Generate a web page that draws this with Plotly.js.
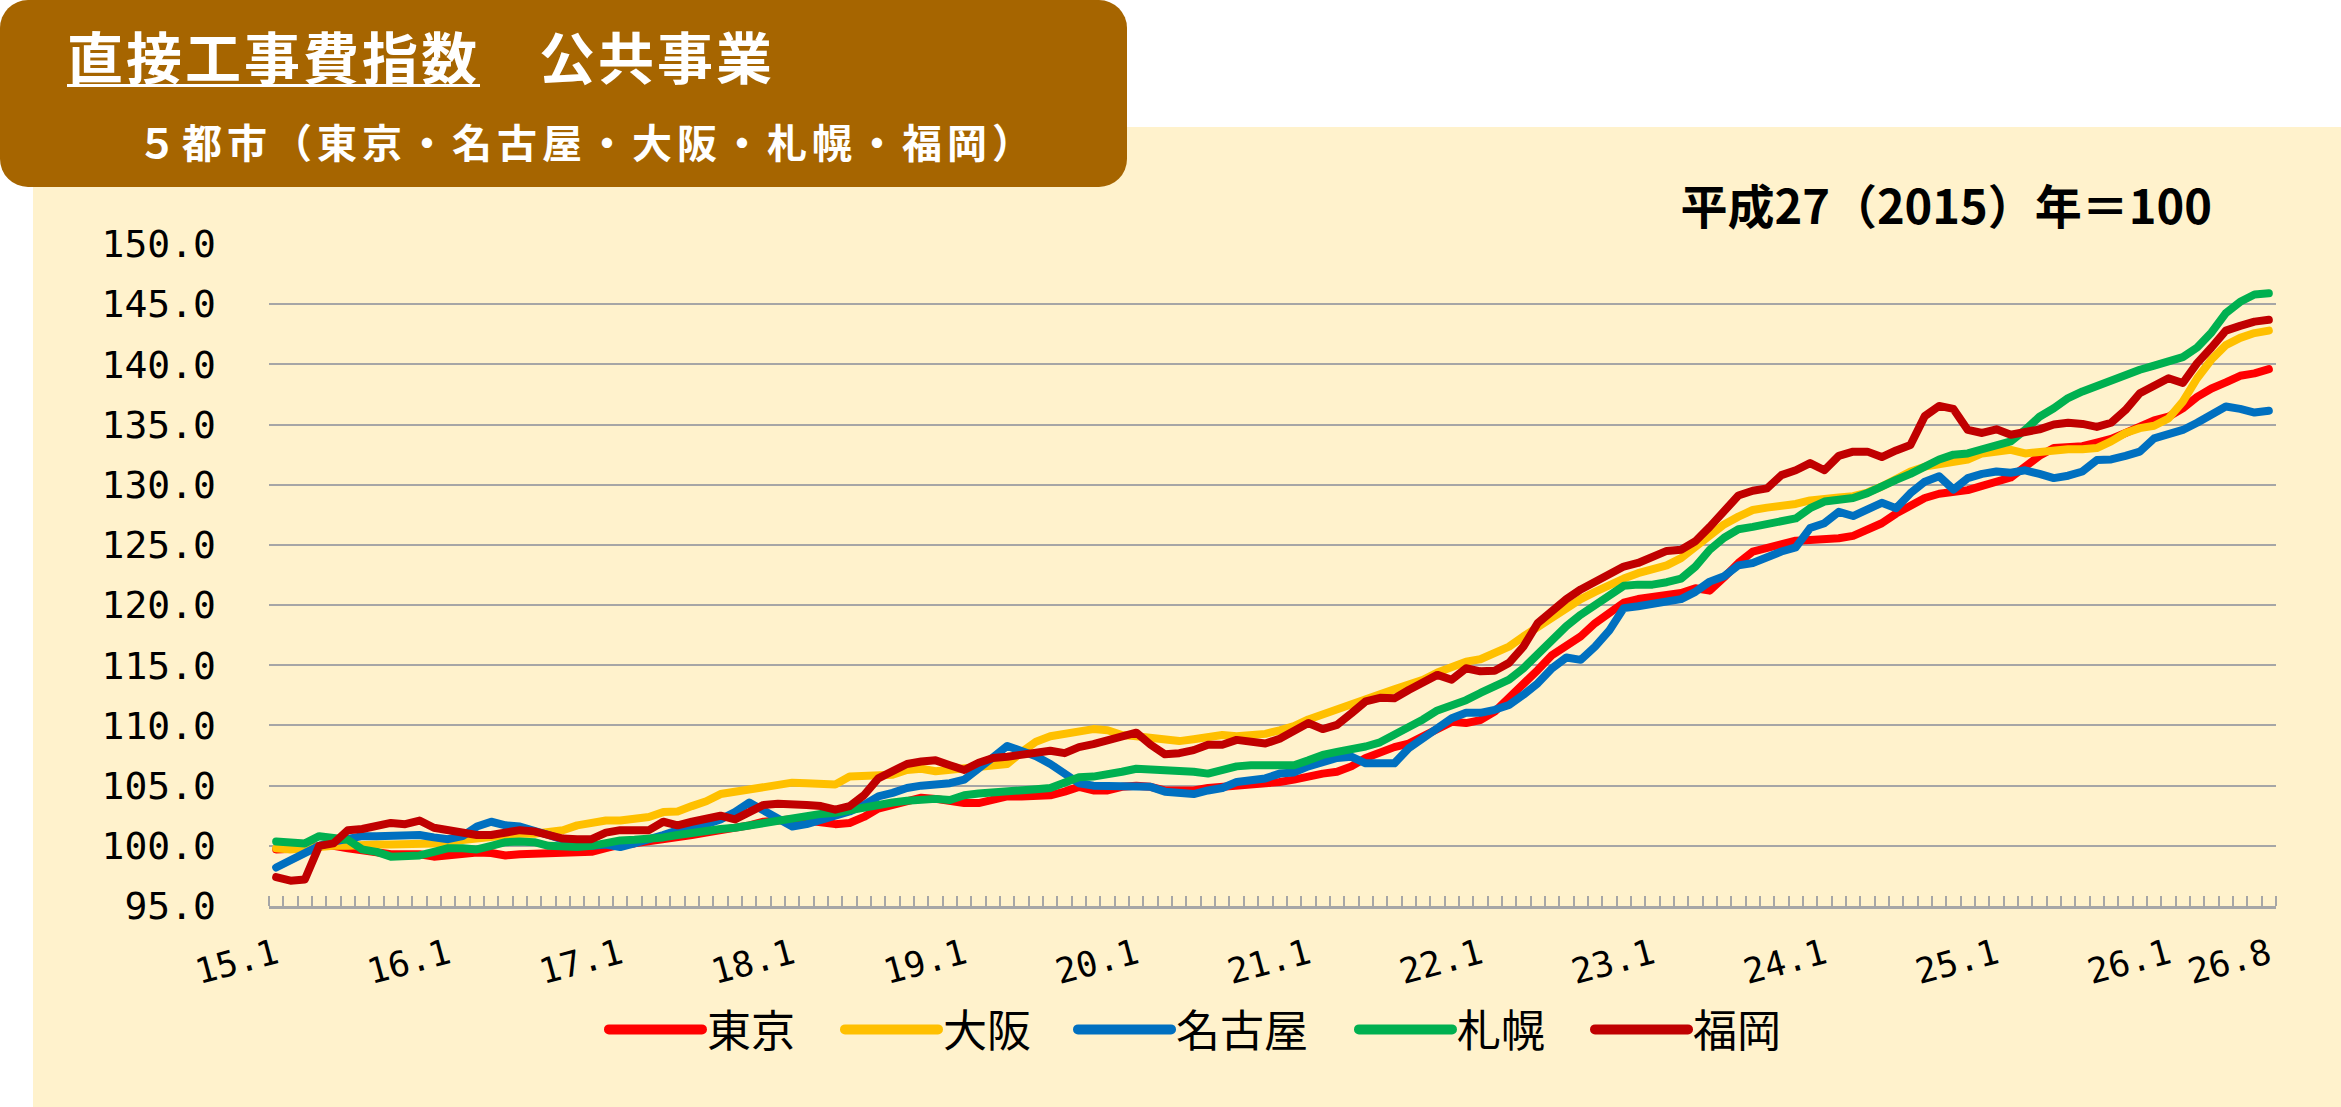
<!DOCTYPE html>
<html>
<head>
<meta charset="utf-8">
<script src="https://cdn.plot.ly/plotly-3.0.1.min.js"></script>
<style>
  body { margin: 0; background: #fff; }
  #wrap { position: relative; width: 2341px; height: 1107px; overflow: hidden; background: #fff; }
  #cream { position: absolute; left: 33px; top: 127px; right: 0; bottom: 0; background: #FFF2CC; }
  #chart { position: absolute; left: 0; top: 0; width: 2341px; height: 1107px; }
  #box { position: absolute; left: 0; top: 0; width: 1127px; height: 187px; background: #A66500;
         border-radius: 28px; font-family: "Noto Sans CJK JP", sans-serif; font-weight: 700; color: #fff; }
  #t1 { position: absolute; left: 67px; top: 27px; font-size: 56px; line-height: 56px; letter-spacing: 3px; white-space: nowrap; }
  #t1 .u { text-decoration: underline; text-decoration-thickness: 3px; text-underline-offset: 5px; }
  #t2 { position: absolute; left: 137px; top: 121px; font-size: 40px; line-height: 40px; letter-spacing: 5px; white-space: nowrap; }
  #unit { position: absolute; right: 129px; top: 180px; font-family: "Noto Sans CJK JP", sans-serif; font-weight: 700;
          font-size: 47px; line-height: 47px; color: #000; white-space: nowrap; }
  #chart path.js-line { stroke-linecap: round; stroke-linejoin: round; }
  #chart .legendlines path { stroke-linecap: round; stroke-width: 10px !important; }
</style>
</head>
<body>
<div id="wrap">
  <div id="cream"></div>
  <div id="chart"></div>
  <div id="box">
    <div id="t1"><span class="u">直接工事費指数</span>　公共事業</div>
    <div id="t2">５都市（東京・名古屋・大阪・札幌・福岡）</div>
  </div>
  <div id="unit">平成27（2015）年＝100</div>
</div>
<script>
// monthly index, 2015.1 - 2026.8 (平成27年 = 100)
var months = [];
for (var yr = 15; yr <= 26; yr++) {
  for (var m = 1; m <= 12; m++) {
    if (yr === 26 && m > 8) break;
    months.push(yr + '.' + m);
  }
}

var tickLabels = ['15.1', '16.1', '17.1', '18.1', '19.1', '20.1', '21.1',
                  '22.1', '23.1', '24.1', '25.1', '26.1', '26.8'];

var tokyo = [
  99.7, 99.7, 99.8, 100.0, 100.0, 99.8, 99.6, 99.4, 99.3, 99.3,
  99.3, 99.1, 99.25, 99.4, 99.45, 99.4, 99.2, 99.3, 99.35, 99.35,
  99.35, 99.45, 99.5, 99.8, 100.1, 100.2, 100.35, 100.5, 100.6, 100.9,
  101.1, 101.3, 101.4, 101.7, 102.0, 102.1, 102.2, 102.1, 102.0, 101.8,
  101.9, 102.4, 103.1, 103.4, 103.8, 104.0, 103.9, 103.7, 103.55, 103.55,
  103.9, 104.1, 104.1, 104.1, 104.2, 104.5, 104.9, 104.6, 104.6, 104.9,
  105.0, 104.9, 104.6, 104.6, 104.6, 104.8, 104.9, 105.0, 105.0, 105.1,
  105.3, 105.5, 105.8, 106.0, 106.15, 106.6, 107.3, 107.8, 108.2, 108.5,
  109.1, 109.75, 110.3, 110.2, 110.45, 111.15, 112.25, 113.35, 114.6, 115.85,
  116.55, 117.4, 118.5, 119.45, 120.2, 120.5, 120.7, 120.9, 121.0, 121.4,
  121.2, 122.3, 123.5, 124.45, 124.7, 125.1, 125.35, 125.4, 125.45, 125.55,
  125.75, 126.2, 126.8, 127.6, 128.3, 128.9, 129.25, 129.35, 129.55, 129.9,
  130.25, 130.6, 131.5, 132.4, 133.05, 133.1, 133.2, 133.5, 133.8, 134.3,
  134.85, 135.35, 135.65, 136.35, 137.3, 138.0, 138.5, 139.05, 139.25, 139.6
];

var osaka = [
  99.8, 99.7, 99.8, 99.95, 100.0, 100.0, 100.1, 100.1, 100.1, 100.1,
  100.1, 100.2, 100.35, 100.5, 100.6, 100.7, 100.9, 101.0, 101.0, 101.1,
  101.3, 101.7, 101.9, 102.1, 102.1, 102.2, 102.4, 102.8, 102.85, 103.3,
  103.7, 104.3, 104.5, 104.7, 104.8, 105.1, 105.25, 105.2, 105.1, 105.1,
  105.75, 105.75, 105.8, 105.9, 106.3, 106.4, 106.2, 106.3, 106.4, 106.5,
  106.6, 106.8, 107.8, 108.65, 109.1, 109.3, 109.55, 109.7, 109.6, 109.2,
  109.1, 109.0, 108.85, 108.7, 108.85, 109.0, 109.2, 109.1, 109.2, 109.3,
  109.6, 109.95, 110.5, 110.95, 111.3, 111.7, 112.25, 112.6, 113.0, 113.35,
  113.8, 114.4, 114.9, 115.3, 115.5, 116.0, 116.55, 117.4, 118.2, 118.9,
  119.7, 120.5, 121.1, 121.7, 122.2, 122.65, 123.0, 123.3, 123.9, 124.85,
  125.8, 126.7, 127.35, 127.9, 128.1, 128.2, 128.4, 128.7, 128.9, 128.95,
  129.05, 129.35, 129.85, 130.55, 131.1, 131.5, 131.7, 131.9, 132.1, 132.6,
  132.75, 132.9, 132.6, 132.75, 132.9, 132.95, 132.95, 133.05, 133.6, 134.3,
  134.7, 134.9, 135.5, 136.9, 138.85, 140.4, 141.6, 142.2, 142.6, 142.8
];

var nagoya = [
  98.2, 98.8, 99.5, 100.0, 100.35, 100.6, 100.8, 100.8, 100.8, 100.8,
  100.9, 100.7, 100.55, 100.8, 101.6, 102.0, 101.7, 101.6, 101.3, 100.9,
  100.5, 100.2, 100.0, 100.1, 99.9, 100.2, 100.5, 100.9, 101.3, 101.5,
  101.8, 102.2, 102.8, 103.6, 102.9, 102.2, 101.6, 101.8, 102.1, 102.4,
  102.85, 103.4, 104.1, 104.4, 104.8, 105.0, 105.1, 105.2, 105.5, 106.35,
  107.35, 108.3, 107.95, 107.45, 106.8, 106.0, 105.2, 105.0, 105.0, 105.05,
  104.9, 104.9, 104.5, 104.4, 104.3, 104.6, 104.8, 105.3, 105.4, 105.6,
  106.0, 106.1, 106.6, 107.0, 107.3, 107.4, 106.85, 106.85, 106.85, 108.1,
  109.0, 109.9, 110.6, 111.05, 111.05, 111.3, 111.7, 112.55, 113.5, 114.75,
  115.65, 115.45, 116.55, 117.9, 119.75, 119.9, 120.15, 120.3, 120.5, 121.1,
  121.95, 122.4, 123.3, 123.5, 124.0, 124.45, 124.8, 126.4, 126.8, 127.75,
  127.4, 127.95, 128.5, 128.05, 129.3, 130.25, 130.7, 129.6, 130.55, 130.9,
  131.1, 131.0, 131.2, 130.9, 130.55, 130.75, 131.1, 132.05, 132.1, 132.4,
  132.75, 133.85, 134.2, 134.55, 135.15, 135.8, 136.5, 136.3, 136.0, 136.15
];

var sapporo = [
  100.35, 100.3, 100.2, 100.8, 100.6, 100.5, 99.7, 99.5, 99.1, 99.2,
  99.2, 99.5, 99.8, 99.8, 99.7, 100.0, 100.3, 100.35, 100.3, 100.0,
  99.9, 99.9, 100.0, 100.3, 100.45, 100.5, 100.55, 100.7, 100.9, 101.1,
  101.2, 101.4, 101.5, 101.7, 101.9, 102.15, 102.4, 102.5, 102.65, 102.75,
  103.0, 103.2, 103.5, 103.6, 103.75, 103.9, 103.9, 103.8, 104.2, 104.35,
  104.4, 104.5, 104.6, 104.7, 104.8, 105.2, 105.7, 105.75, 105.9, 106.15,
  106.4, 106.35, 106.35, 106.25, 106.15, 106.0, 106.35, 106.6, 106.7, 106.65,
  106.6, 106.7, 107.1, 107.55, 107.8, 108.0, 108.25, 108.6, 109.2, 109.9,
  110.5, 111.25, 111.6, 112.1, 112.7, 113.2, 113.8, 114.75, 115.95, 117.15,
  118.25, 119.2, 120.0, 120.7, 121.6, 121.7, 121.7, 121.9, 122.2, 123.2,
  124.6, 125.6, 126.3, 126.5, 126.75, 126.85, 127.2, 128.05, 128.6, 128.75,
  128.9, 129.3, 129.9, 130.4, 130.9, 131.5, 132.1, 132.5, 132.6, 132.95,
  133.2, 133.6, 134.55, 135.65, 136.35, 137.2, 137.75, 138.2, 138.7, 139.25,
  139.55, 139.9, 140.25, 140.6, 141.4, 142.65, 144.25, 145.2, 145.8, 145.9
];

var fukuoka = [
  97.4, 97.1, 97.2, 100.0, 100.2, 101.3, 101.4, 101.7, 101.9, 101.8,
  102.1, 101.5, 101.3, 101.1, 100.9, 100.9, 101.1, 101.3, 101.2, 100.9,
  100.6, 100.55, 100.55, 101.1, 101.3, 101.3, 101.3, 102.0, 101.7, 102.0,
  102.3, 102.5, 102.2, 102.8, 103.4, 103.5, 103.5, 103.4, 103.3, 103.0,
  103.3, 104.2, 105.6, 106.2, 106.8, 107.0, 107.1, 106.7, 106.3, 106.9,
  107.3, 107.4, 107.6, 107.7, 107.9, 107.7, 108.2, 108.45, 108.8, 109.0,
  109.4, 108.4, 107.6, 107.7, 107.95, 108.4, 108.4, 108.8, 108.65, 108.5,
  108.9, 109.6, 110.2, 109.7, 110.05, 111.0, 112.0, 112.3, 112.25, 112.95,
  113.6, 114.2, 113.8, 114.75, 114.5, 114.55, 115.2, 116.55, 118.5, 119.55,
  120.5, 121.3, 121.9, 122.5, 123.2, 123.5, 124.0, 124.5, 124.6, 125.3,
  126.5, 127.8, 129.1, 129.5, 129.7, 130.8, 131.2, 131.8, 131.2, 132.4,
  132.75, 132.75, 132.3, 132.85, 133.3, 135.7, 136.55, 136.3, 134.55, 134.3,
  134.6, 134.15, 134.35, 134.6, 135.0, 135.15, 135.05, 134.8, 135.15, 136.2,
  137.6, 138.2, 138.85, 138.45, 140.1, 141.4, 142.8, 143.2, 143.55, 143.7
];

var seriesNames = ['東京', '大阪', '名古屋', '札幌', '福岡'];
var seriesColors = ['#FF0000', '#FFC000', '#0070C0', '#00B050', '#C00000'];
var seriesValues = [tokyo, osaka, nagoya, sapporo, fukuoka];

var idx = months.map(function (m, i) { return i; });
var tickPos = tickLabels.map(function (t) { return months.indexOf(t); });

// one legend per series so each entry sits where the original has it
var legendIds = ['legend', 'legend2', 'legend3', 'legend4', 'legend5'];
var legendX = [0.1669, 0.2845, 0.4006, 0.5406, 0.6582];

var data = seriesValues.map(function (vals, k) {
  return {
    type: 'scatter',
    mode: 'lines',
    name: seriesNames[k],
    legend: legendIds[k],
    x: idx,
    y: vals,
    line: { color: seriesColors[k], width: 8 },
    hoverinfo: 'skip'
  };
});

var layout = {
  width: 2341,
  height: 1107,
  margin: { l: 269, r: 65, t: 244, b: 201 },
  paper_bgcolor: 'rgba(0,0,0,0)',
  plot_bgcolor: 'rgba(0,0,0,0)',
  showlegend: true,
  xaxis: {
    range: [-0.5, 139.5],
    tickmode: 'array',
    tickvals: tickPos,
    ticktext: tickLabels,
    tickangle: -15,
    ticks: '',
    showgrid: false,
    zeroline: false,
    showline: true,
    linecolor: '#A6A6A6',
    linewidth: 3,
    ticklabelstandoff: 12,
    tickfont: { family: 'DejaVu Sans Mono', size: 35, color: '#000' },
    minor: {
      tickmode: 'linear', tick0: -0.5, dtick: 1,
      ticks: 'inside', ticklen: 10, tickwidth: 2, tickcolor: '#A6A6A6', showgrid: false
    }
  },
  yaxis: {
    range: [95, 150],
    tick0: 95,
    dtick: 5,
    tickformat: '.1f',
    ticks: '',
    showline: false,
    zeroline: false,
    gridcolor: '#A6A6A6',
    gridwidth: 2,
    ticklabelstandoff: 52,
    tickfont: { family: 'DejaVu Sans Mono', size: 38, color: '#000' }
  }
};

legendIds.forEach(function (id, k) {
  layout[id] = {
    orientation: 'h',
    x: legendX[k],
    xanchor: 'left',
    y: -0.187,
    yanchor: 'middle',
    itemwidth: 93,
    bgcolor: 'rgba(0,0,0,0)',
    font: { family: 'Noto Sans CJK JP', size: 44, color: '#000' }
  };
});

Plotly.newPlot('chart', data, layout, { displayModeBar: false, staticPlot: true });
</script>
</body>
</html>
